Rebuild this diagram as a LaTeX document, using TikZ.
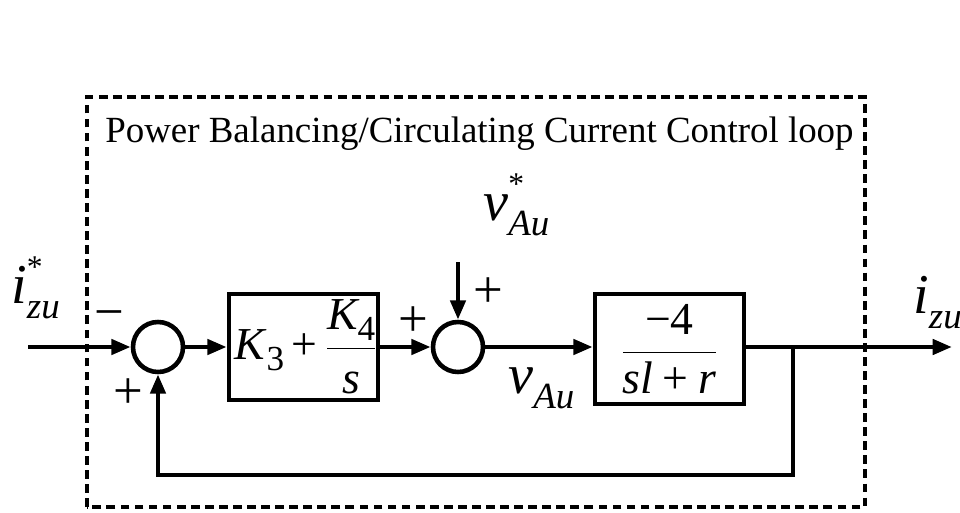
\documentclass[tikz,border=0pt]{standalone}
\usepackage{fontspec}
\setmainfont{Liberation Serif}
\usetikzlibrary{arrows.meta}
% signal name: letter, subscript, mark
\newcommand{\sigvar}[3]{\textit{#1}\makebox[0pt][l]{\raisebox{0.45em}{\fontsize{18}{20}\selectfont #3}}\raisebox{-0.28em}{\fontsize{21}{24}\selectfont\textit{#2}}}
\newcommand{\lowtxt}[1]{\raisebox{-0.25em}{\fontsize{20}{22}\selectfont #1}}
\tikzset{
  blk/.style={draw,line width=2.6pt,minimum width=2.98cm,inner sep=0pt},
  sumnode/.style={draw,circle,line width=2.6pt,minimum size=1cm,inner sep=0pt},
  sig/.style={line width=2.6pt,-{Triangle[length=11pt,width=8.5pt]}},
  sgn/.style={font=\fontsize{30}{34}\selectfont,inner sep=0pt},
  var/.style={font=\fontsize{32}{36}\selectfont,inner sep=0pt,anchor=base west},
}

\begin{document}
\begin{tikzpicture}
  \useasboundingbox (0,0) rectangle (19.2,10.24);
  % frame of the loop
  \draw[line width=2.6pt,dash pattern=on 5pt off 3pt] (1.74,0.10) rectangle (17.30,8.30);
  \node[anchor=base west,font=\fontsize{21}{25}\selectfont,inner sep=0pt] (title) at (2.10,7.40)
    {Power Balancing/Circulating Current Control loop};

  \coordinate (in) at (0.56,3.30);
  \node[sumnode] (sum1) at (3.16,3.30) {};
  \node[blk,minimum height=2.12cm,font=\fontsize{26}{30}\selectfont] (blk1) at (6.07,3.30)
    {\hspace{0.1em}\textit{K}\lowtxt{3}\,+\,$\displaystyle\frac{\textit{K}\lowtxt{4}}{\rule{0pt}{0.95em}\textit{s}}$};
  \node[sumnode] (sum2) at (9.16,3.30) {};
  \coordinate (ref) at (9.16,5.00);
  \node[blk,minimum height=2.2cm,font=\fontsize{26}{30}\selectfont] (blk2) at (13.39,3.26)
    {$\displaystyle\frac{\textrm{−4}}{\textit{sl}\mathbin{\textrm{+}}\textit{r}}$};
  \coordinate (br) at (15.86,3.30);
  \coordinate (bl) at (15.86,0.74);
  \coordinate (out) at (19.04,3.30);

  \draw[sig] (in) -- (sum1);
  \draw[sig] (sum1) -- (blk1);
  \draw[sig] (blk1) -- (sum2);
  \draw[sig] (ref) -- (sum2);
  \draw[sig] (sum2) -- (blk2.west |- sum2);
  \draw[sig] (blk2.east |- br) -- (out);
  \draw[sig] (br) -- (bl) -| (sum1.south);

  % signs and signals
  \node[sgn] (m1) at (2.18,3.84) {−};
  \node[sgn] (p1) at (2.56,2.36) {+};
  \node[sgn] (p2) at (8.26,3.80) {+};
  \node[sgn] (p3) at (9.76,4.38) {+};
  \node[var] (izref) at (0.22,4.18) {\sigvar{i}{zu}{*}};
  \node[var] (vref) at (9.66,5.84) {\sigvar{v}{Au}{*}};
  \node[var] (vau) at (10.16,2.38) {\sigvar{v}{Au}{}};
  \node[var] (iz) at (18.26,3.98) {\sigvar{i}{zu}{}};
\end{tikzpicture}
\end{document}
